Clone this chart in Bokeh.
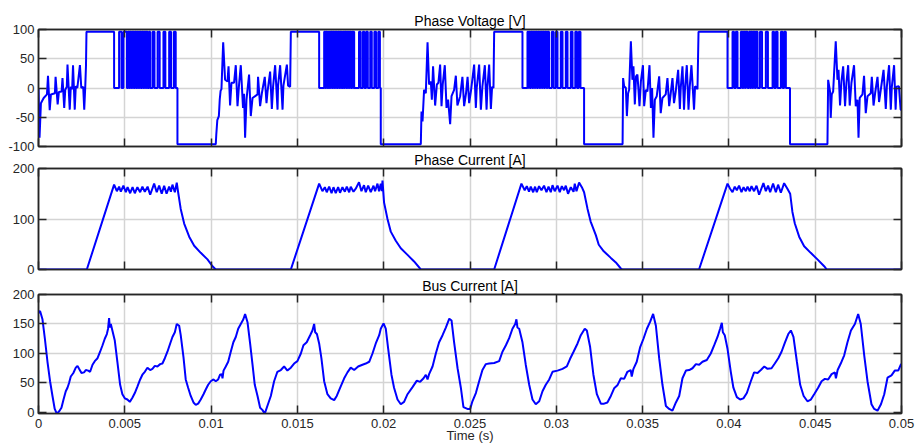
import numpy as np
from bokeh.plotting import figure
from bokeh.layouts import column
from bokeh.models import Range1d, FixedTicker, LinearAxis
from bokeh.embed import file_html
from bokeh.resources import INLINE

# ---------------- axis ticks ----------------
x_ticks = [0, 0.005, 0.01, 0.015, 0.02, 0.025, 0.03, 0.035, 0.04, 0.045, 0.05]
x_tick_labels = ["0", "0.005", "0.01", "0.015", "0.02", "0.025", "0.03", "0.035", "0.04", "0.045", "0.05"]
v_ticks = [-100, -50, 0, 50, 100]
v_tick_labels = ["-100", "-50", "0", "50", "100"]
ia_ticks = [0, 100, 200]
ia_tick_labels = ["0", "100", "200"]
ib_ticks = [0, 50, 100, 150, 200]
ib_tick_labels = ["0", "50", "100", "150", "200"]

# ---------------- phase voltage (time in ms, volts) ----------------
v_high = 96.0
v_low = -96.0
top_start = [2.78, 14.62, 26.40, 38.24]
top_end = [4.38, 16.26, 28.04, 39.92]
neg_start = [8.05, 19.83, 31.61, 43.54]
neg_end = [10.27, 22.15, 33.84, 45.71]

# on-pulses (start, end) of the chopped part of each conduction interval
pwm1 = [(4.67, 4.81), (4.92, 5.12), (5.19, 5.26), (5.29, 5.35), (5.39, 5.46), (5.49, 5.55),
        (5.59, 5.66), (5.69, 5.75), (5.79, 5.86), (5.89, 5.95), (5.99, 6.06), (6.09, 6.15),
        (6.19, 6.26), (6.28, 6.32), (6.40, 6.47), (6.61, 6.72), (6.90, 7.02), (7.24, 7.35),
        (7.57, 7.68), (7.84, 7.95)]
pwm2 = [(16.55, 16.62), (16.65, 16.71), (16.75, 16.80), (16.86, 16.92), (16.95, 17.02),
        (17.05, 17.11), (17.15, 17.22), (17.25, 17.31), (17.35, 17.42), (17.45, 17.51),
        (17.55, 17.60), (17.66, 17.72), (17.75, 17.82), (17.85, 17.91), (17.95, 18.02),
        (18.05, 18.11), (18.15, 18.22), (18.24, 18.29), (18.57, 18.66), (18.79, 18.88),
        (18.98, 19.08), (19.22, 19.31), (19.46, 19.56), (19.69, 19.78)]
pwm3 = [(28.33, 28.40), (28.43, 28.49), (28.53, 28.60), (28.63, 28.69), (28.73, 28.80),
        (28.83, 28.89), (28.93, 29.00), (29.03, 29.09), (29.13, 29.20), (29.23, 29.29),
        (29.33, 29.40), (29.43, 29.49), (29.52, 29.58), (29.74, 29.84), (29.97, 30.07),
        (30.26, 30.36), (30.55, 30.65), (30.84, 30.94), (31.10, 31.20), (31.30, 31.40)]
pwm4 = [(40.21, 40.30), (40.40, 40.50), (40.69, 40.76), (40.79, 40.85), (40.89, 40.96),
        (40.99, 41.08), (41.17, 41.24), (41.27, 41.33), (41.37, 41.44), (41.47, 41.53),
        (41.57, 41.66), (41.80, 41.92), (42.14, 42.26), (42.53, 42.62), (42.72, 42.82),
        (43.01, 43.11), (43.20, 43.30)]

noise0_t = [0.00, 0.06, 0.14, 0.30, 0.49, 0.55, 0.65, 0.72, 0.95, 0.99, 1.11, 1.18, 1.34, 1.39,
            1.49, 1.55, 1.64, 1.68, 1.81, 1.87, 1.95, 2.00, 2.10, 2.16, 2.25, 2.40, 2.48, 2.59,
            2.65, 2.71, 2.75]
noise0_v = [0, -85, -26, -17, -11, 21, -38, -11, -9, 19, -28, -7, -6, 17, -34, -3, 2, 40, -37, 2,
            -2, 39, -37, 3, 0, 39, 0, 2, -37, 3, 37]
noise1_t = [10.30, 10.36, 10.45, 10.50, 10.55, 10.60, 10.70, 10.81, 10.95, 11.01, 11.10, 11.18,
            11.33, 11.43, 11.53, 11.62, 11.72, 11.85, 11.91, 11.97, 12.05, 12.20, 12.30, 12.40,
            12.69, 12.72, 12.84, 12.94, 13.11, 13.21, 13.27, 13.42, 13.52, 13.59, 13.71, 13.85,
            13.88, 14.00, 14.14, 14.19, 14.39, 14.46, 14.58]
noise1_v = [-80, -55, -48, -20, -5, -2, 78, 14, 11, 37, -30, 9, 9, 39, -31, 6, 39, -34, -10, -85,
            -20, 23, -48, -17, -11, 19, -31, -9, 19, -26, -6, 28, -36, 2, 39, -37, 4, 39, -37, 4,
            40, 4, 2]
noise2_t = [22.19, 22.25, 22.34, 22.44, 22.54, 22.63, 22.73, 22.79, 22.86, 22.98, 23.08, 23.17,
            23.27, 23.35, 23.42, 23.54, 23.64, 23.73, 23.85, 23.93, 24.08, 24.18, 24.27, 24.43,
            24.56, 24.66, 24.77, 24.86, 24.95, 25.05, 25.24, 25.34, 25.39, 25.53, 25.63, 25.72,
            25.86, 25.96, 26.01, 26.11, 26.21, 26.28, 26.36]
noise2_v = [-40, -57, -3, -9, 78, 6, 11, -20, 37, -30, 6, 9, 40, -31, 6, 39, -34, -20, -62, -14,
            -3, 21, -30, -14, 19, -31, -9, 19, -26, -6, 40, -34, 0, 40, -37, 3, 39, -37, 2, 40,
            -36, 2, 0]
noise3_t = [33.87, 33.93, 34.03, 34.09, 34.16, 34.22, 34.32, 34.41, 34.47, 34.55, 34.62, 34.70,
            34.76, 34.82, 34.90, 35.02, 35.09, 35.19, 35.28, 35.40, 35.48, 35.55, 35.63, 35.71,
            35.82, 35.96, 36.05, 36.15, 36.34, 36.44, 36.54, 36.63, 36.73, 36.82, 36.92, 37.06,
            37.16, 37.21, 37.31, 37.40, 37.46, 37.56, 37.66, 37.73, 37.83, 37.98, 38.04, 38.18]
noise3_v = [17, 3, 0, -48, -9, -3, 80, 14, 37, -28, 20, 23, -3, -31, 11, 39, -31, -3, -6, 39, -34,
            0, -85, -20, -14, 20, -43, -17, -11, 17, -31, -9, 17, -26, -6, 31, -36, 0, 37, -37, 0,
            39, -37, 2, 39, -37, 3, -2]
noise4_t = [45.75, 45.81, 45.86, 45.90, 45.96, 46.04, 46.19, 46.29, 46.35, 46.44, 46.52, 46.62,
            46.73, 46.81, 46.91, 47.00, 47.10, 47.25, 47.35, 47.45, 47.51, 47.58, 47.74, 47.83,
            47.93, 48.03, 48.22, 48.28, 48.38, 48.47, 48.61, 48.70, 48.80, 48.96, 49.09, 49.15,
            49.28, 49.38, 49.44, 49.57, 49.66, 49.71, 49.85, 49.95, 50.00]
noise4_v = [14, 3, -6, -51, -11, -6, 80, 14, 31, -30, 11, 37, -31, 9, 39, -30, 9, 39, -31, -20,
            -85, -17, -11, 21, -43, -14, -9, 19, -30, -9, 19, -24, -3, 31, -36, 2, 39, -37, 2, 39,
            -37, 2, 3, -37, -37]

# ---------------- phase current (ms, A) ----------------
ia1_t = [2.80, 4.38, 4.54, 4.67, 4.77, 4.92, 5.06, 5.16, 5.31, 5.45, 5.58, 5.73, 5.89, 6.02, 6.16,
         6.32, 6.47, 6.70, 6.85, 6.99, 7.14, 7.28, 7.42, 7.57, 7.67, 7.76, 7.90, 8.01, 8.09, 8.24,
         8.44, 8.73, 9.02, 9.40, 9.79, 10.08, 10.27]
ia1_v = [0, 168, 155, 164, 154, 166, 153, 163, 151, 163, 151, 163, 153, 164, 154, 164, 148, 170,
         153, 166, 150, 166, 150, 164, 154, 168, 153, 172, 153, 120, 91, 65, 47, 33, 20, 6.5, 0]
ia2_t = [14.62, 16.26, 16.45, 16.59, 16.70, 16.84, 16.98, 17.09, 17.22, 17.36, 17.47, 17.61, 17.75,
         17.86, 18.00, 18.09, 18.25, 18.38, 18.57, 18.71, 18.86, 18.96, 19.10, 19.25, 19.41, 19.50,
         19.64, 19.73, 19.83, 19.89, 19.93, 20.02, 20.22, 20.41, 20.70, 20.99, 21.38, 21.76, 22.15]
ia2_v = [0, 170, 155, 163, 153, 164, 151, 163, 151, 163, 152, 163, 154, 164, 153, 164, 154, 160,
         173, 155, 167, 153, 166, 153, 166, 155, 170, 155, 170, 155, 176, 133, 100, 75, 57, 42, 29,
         16, 0]
ia3_t = [26.40, 27.98, 28.17, 28.29, 28.42, 28.52, 28.66, 28.77, 28.87, 29.00, 29.14, 29.29, 29.43,
         29.55, 29.68, 29.78, 29.91, 30.07, 30.20, 30.32, 30.45, 30.55, 30.68, 30.84, 31.00, 31.07,
         31.17, 31.32, 31.48, 31.61, 31.81, 31.99, 32.29, 32.46, 32.75, 33.16, 33.45, 33.74, 33.84]
ia3_v = [0, 170, 157, 165, 154, 164, 153, 164, 153, 165, 157, 166, 153, 164, 153, 167, 155, 166,
         153, 165, 157, 166, 150, 163, 154, 170, 155, 172, 163, 153, 120, 95, 68, 49, 36, 23, 14,
         2, 0]
ia4_t = [38.27, 39.92, 40.07, 40.21, 40.34, 40.46, 40.59, 40.73, 40.85, 40.98, 41.08, 41.21, 41.31,
         41.46, 41.60, 41.75, 42.00, 42.14, 42.27, 42.39, 42.56, 42.72, 42.85, 43.01, 43.20, 43.39,
         43.55, 43.68, 43.82, 44.07, 44.36, 44.74, 45.13, 45.52, 45.67]
ia4_v = [0, 170, 160, 153, 164, 157, 166, 153, 163, 155, 164, 155, 165, 155, 166, 148, 171, 155,
         166, 153, 170, 153, 168, 152, 171, 160, 150, 114, 91, 65, 46, 33, 20, 6.5, 0]

# ---------------- bus current (ms, A) ----------------
ib1_t = [0.00, 0.09, 0.23, 0.37, 0.52, 0.67, 0.81, 0.94, 1.06, 1.20, 1.33, 1.45, 1.58, 1.68, 1.77,
         1.87, 2.02, 2.16, 2.26, 2.35, 2.49, 2.64, 2.74, 2.88, 2.99, 3.13, 3.26, 3.42, 3.57, 3.71,
         3.84, 3.96, 4.03, 4.09, 4.13, 4.19, 4.28, 4.42, 4.57, 4.73, 4.86, 5.00, 5.15, 5.29, 5.44,
         5.58, 5.73, 5.89, 6.02, 6.16, 6.31, 6.47, 6.60, 6.74, 6.89, 7.05, 7.18, 7.32, 7.47, 7.63,
         7.76, 7.90, 8.01, 8.15, 8.24, 8.40, 8.53, 8.67, 8.82, 8.98, 9.11, 9.25, 9.40, 9.56, 9.69,
         9.83, 9.98, 10.14, 10.27, 10.41, 10.52, 10.62, 10.66, 10.72, 10.85, 10.99, 11.14, 11.29,
         11.43, 11.57, 11.72, 11.87, 11.97, 12.11, 12.26, 12.40, 12.53, 12.69, 12.84, 12.98, 13.11,
         13.26, 13.46, 13.65, 13.84, 14.04]
ib1_v = [169, 172, 158, 125, 86, 53, 28, 6, -2, 2, 8, 22, 36, 42, 50, 61, 67, 76, 79, 74, 67, 68,
         72, 71, 69, 81, 87, 92, 103, 114, 125, 133, 142, 160, 144, 150, 139, 122, 86, 47, 31, 24,
         22, 18, 25, 33, 44, 56, 64, 69, 76, 72, 74, 79, 78, 82, 83, 92, 103, 117, 128, 136, 150,
         147, 131, 94, 56, 42, 28, 17, 13, 15, 22, 31, 39, 47, 53, 56, 53, 56, 64, 65, 58, 71, 78,
         86, 103, 119, 128, 142, 150, 158, 167, 153, 117, 81, 47, 28, 8, 4, -2, 11, 28, 53, 69, 72]
ib2_t = [14.23, 14.42, 14.62, 14.81, 15.00, 15.20, 15.35, 15.54, 15.74, 15.87, 15.97, 16.03, 16.13,
         16.26, 16.39, 16.55, 16.74, 16.93, 17.13, 17.28, 17.48, 17.71, 17.90, 18.09, 18.29, 18.52,
         18.77, 18.96, 19.16, 19.35, 19.54, 19.74, 19.83, 19.99, 20.12, 20.26, 20.45, 20.60, 20.80,
         20.99, 21.18, 21.38, 21.67, 21.92, 22.11, 22.31, 22.44, 22.54, 22.63, 22.83, 23.02, 23.21,
         23.41, 23.60, 23.80, 23.93, 24.08, 24.28, 24.47, 24.62, 24.85, 25.01, 25.14, 25.34, 25.53,
         25.72, 25.92, 26.11, 26.40, 26.69, 26.88, 27.08, 27.27, 27.46, 27.62, 27.69, 27.75, 27.85,
         28.04, 28.23, 28.43, 28.62, 28.81, 29.01, 29.20, 29.39, 29.59, 29.78, 30.07, 30.36, 30.61,
         30.80, 31.00, 31.23, 31.42, 31.65, 31.77, 31.96, 32.15, 32.35]
ib2_v = [78, 71, 76, 83, 87, 100, 114, 119, 131, 139, 150, 136, 133, 117, 92, 53, 31, 24, 21, 28,
         42, 58, 68, 76, 72, 78, 81, 83, 86, 100, 117, 131, 142, 151, 142, 108, 64, 42, 22, 14, 18,
         31, 43, 54, 52, 58, 64, 56, 65, 78, 100, 119, 131, 144, 159, 156, 119, 75, 42, 9, 6, 6,
         19, 33, 53, 72, 82, 83, 84, 87, 103, 114, 126, 142, 150, 158, 144, 142, 119, 81, 47, 22,
         14, 19, 36, 47, 56, 69, 71, 74, 78, 91, 103, 117, 131, 142, 139, 111, 64, 31]
ib3_t = [32.58, 32.77, 32.96, 33.16, 33.35, 33.54, 33.74, 33.93, 34.12, 34.31, 34.37, 34.47, 34.66,
         34.86, 35.05, 35.25, 35.44, 35.61, 35.77, 35.96, 36.15, 36.35, 36.54, 36.73, 36.93, 37.12,
         37.31, 37.51, 37.70, 37.89, 38.09, 38.28, 38.47, 38.72, 38.95, 39.15, 39.34, 39.49, 39.59,
         39.65, 39.76, 39.92, 40.11, 40.26, 40.46, 40.65, 40.84, 41.04, 41.27, 41.46, 41.66, 41.85,
         42.05, 42.24, 42.47, 42.66, 42.86, 43.05, 43.25, 43.44, 43.59, 43.74, 43.94, 44.13, 44.33,
         44.55, 44.75, 44.94, 45.17, 45.37, 45.56, 45.75, 45.95, 46.14, 46.20, 46.30, 46.48, 46.68,
         46.87, 47.07, 47.30, 47.49, 47.64, 47.84, 48.03, 48.26, 48.42, 48.61, 48.81, 49.00, 49.19,
         49.42, 49.61, 49.81, 49.96, 50.00]
ib3_v = [15, 15, 17, 28, 41, 46, 58, 57, 69, 72, 61, 74, 86, 111, 125, 142, 154, 167, 147, 92, 47,
         11, 6, 3, 17, 28, 58, 71, 72, 75, 82, 81, 86, 89, 100, 114, 128, 142, 152, 136, 131, 108,
         69, 42, 26, 22, 24, 33, 53, 68, 67, 72, 78, 74, 75, 83, 92, 103, 119, 133, 139, 128, 86,
         47, 28, 19, 22, 31, 42, 53, 57, 56, 65, 68, 58, 72, 83, 97, 119, 139, 150, 167, 150, 97,
         53, 14, 6, 3, 14, 31, 59, 63, 71, 71, 81, 82]

# ---------------- assemble traces ----------------
vt, vv = list(noise0_t), list(noise0_v)
pwms = [pwm1, pwm2, pwm3, pwm4]
noises = [(noise1_t, noise1_v), (noise2_t, noise2_v), (noise3_t, noise3_v), (noise4_t, noise4_v)]
for k in range(4):
    vt += [top_start[k], top_end[k], top_end[k]]
    vv += [v_high, v_high, 0]
    for a, b in pwms[k]:
        vt += [a, a, b, b]
        vv += [0, v_high, v_high, 0]
    vt += [neg_start[k], neg_start[k], neg_end[k]]
    vv += [0, v_low, v_low]
    vt += noises[k][0]
    vv += noises[k][1]

iat = [0.0] + ia1_t + ia2_t + ia3_t + ia4_t + [50.0]
iav = [0.0] + ia1_v + ia2_v + ia3_v + ia4_v + [0.0]
ibt = ib1_t + ib2_t + ib3_t
ibv = ib1_v + ib2_v + ib3_v

FONT = "Liberation Sans"
AX = "#262626"
GRID = "#d4d4d4"
BLUE = "#0000ff"


def style_axis(ax, ticks, labels):
    ax.ticker = FixedTicker(ticks=ticks)
    ax.major_tick_in = 8
    ax.major_tick_out = 0
    ax.minor_tick_line_color = None
    ax.major_tick_line_color = AX
    ax.major_tick_line_width = 1.5
    ax.axis_line_color = AX
    ax.axis_line_width = 1.5
    if labels is None:
        ax.major_label_text_font_size = "0px"
        ax.major_label_text_color = None
        ax.major_label_standoff = 0
    else:
        ax.major_label_overrides = dict(zip(ticks, labels))
        ax.major_label_text_font = FONT
        ax.major_label_text_font_size = "13px"
        ax.major_label_text_color = AX
        ax.major_label_standoff = 4


def make_panel(title, height, top, bottom, y_start, y_end, y_ticks, y_labels, x_labels, fill):
    p = figure(width=915, height=height, x_range=Range1d(0, 0.05), y_range=Range1d(y_start, y_end),
               output_backend="svg", toolbar_location=None, title=title,
               min_border_left=38, min_border_right=14, min_border_top=top,
               min_border_bottom=bottom, background_fill_color="white",
               border_fill_color=fill, outline_line_color=AX, outline_line_width=1.5)
    p.title.align = "center"
    p.title.text_font = FONT
    p.title.text_font_size = "14px"
    p.title.text_font_style = "normal"
    p.title.text_color = "black"
    p.title.standoff = 1
    below = p.below[0]
    style_axis(below, x_ticks, x_labels)
    style_axis(p.left[0], y_ticks, y_labels)
    right = LinearAxis()
    style_axis(right, y_ticks, None)
    p.add_layout(right, "right")
    above = LinearAxis()
    style_axis(above, x_ticks, None)
    p.add_layout(above, "above")
    p.xgrid.ticker = FixedTicker(ticks=x_ticks)
    p.ygrid.ticker = FixedTicker(ticks=y_ticks)
    p.grid.grid_line_color = GRID
    p.grid.grid_line_width = 1.5
    return p, below


p1, _ = make_panel("Phase Voltage [V]", 156, 29, 10, -100, 100, v_ticks, v_tick_labels, None, "white")
p1.line(np.array(vt) / 1000.0, vv, line_color=BLUE, line_width=2)

p2, _ = make_panel("Phase Current [A]", 130, 17, 10, 0, 200, ia_ticks, ia_tick_labels, None, None)
p2.line(np.array(iat) / 1000.0, iav, line_color=BLUE, line_width=2)
p2.margin = (-7, 0, 0, 0)

p3, xa = make_panel("Bus Current [A]", 171, 16, 33, -1.7, 200, ib_ticks, ib_tick_labels,
                    x_tick_labels, None)
p3.line(np.array(ibt) / 1000.0, ibv, line_color=BLUE, line_width=2)
p3.margin = (-4, 0, 0, 0)
xa.axis_label = "Time (s)"
xa.axis_label_text_font = FONT
xa.axis_label_text_font_size = "13px"
xa.axis_label_text_font_style = "normal"
xa.axis_label_text_color = AX
xa.axis_label_standoff = -3
xa.major_label_standoff = 5

layout = column(p1, p2, p3)
open("out.html", "w").write(file_html(layout, INLINE))
